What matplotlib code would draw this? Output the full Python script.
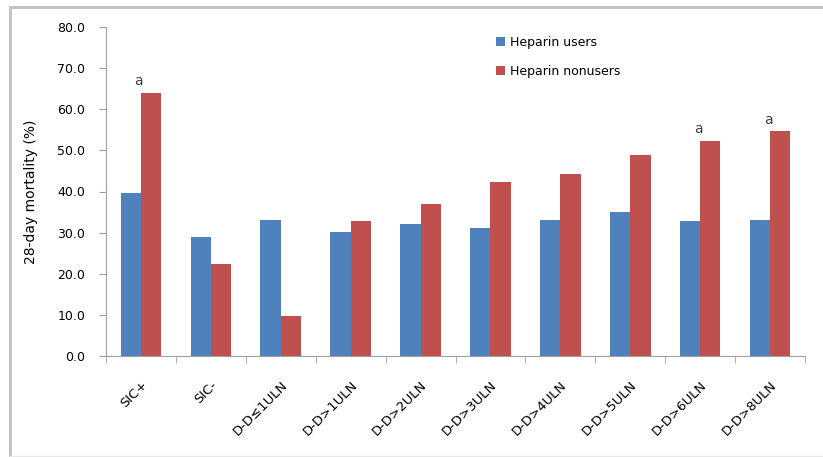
import numpy as np
import matplotlib.pyplot as plt
from matplotlib.lines import Line2D

categories = ['SIC+', 'SIC-', 'D-D≤1ULN', 'D-D>1ULN', 'D-D>2ULN', 'D-D>3ULN',
              'D-D>4ULN', 'D-D>5ULN', 'D-D>6ULN', 'D-D>8ULN']
users = [39.7, 29.0, 33.1, 30.2, 32.1, 31.1, 33.1, 34.9, 32.9, 33.1]
nonusers = [64.0, 22.4, 9.7, 32.8, 37.0, 42.3, 44.2, 48.8, 52.2, 54.6]
marked = ['SIC+', 'D-D>6ULN', 'D-D>8ULN']

plt.rcParams['font.family'] = ['DejaVu Sans']

fig = plt.figure(figsize=(8.23, 4.57), dpi=100)
W, H = 823, 457
# light grey frame (top and left edges, faint bottom)
fig.lines.append(Line2D([10 / W, 1], [1 - 6.5 / H] * 2, transform=fig.transFigure,
                        color='#c4c4c4', linewidth=2.2))
fig.lines.append(Line2D([10 / W] * 2, [0, 1 - 6.5 / H], transform=fig.transFigure,
                        color='#c4c4c4', linewidth=2.2))
fig.lines.append(Line2D([10 / W, 1], [1.2 / H] * 2, transform=fig.transFigure,
                        color='#e8e8e8', linewidth=1))

ax = fig.add_axes([106 / W, 1 - 356 / H, 699 / W, 329 / H])

x = np.arange(len(categories))
w = 0.29
ax.bar(x - w / 2, users, w, color='#4f81bd', label='Heparin users')
ax.bar(x + w / 2, nonusers, w, color='#c0504d', label='Heparin nonusers')

for i, c in enumerate(categories):
    if c in marked:
        ax.text(x[i] - 0.03, nonusers[i] + 1.2, 'a', ha='center', va='bottom',
                fontsize=10, color='#404040')

ax.set_xlim(-0.5, len(categories) - 0.5)
ax.set_ylim(0, 80)
ax.set_yticks(np.arange(0, 81, 10))
ax.set_yticklabels([f'{v:.1f}' for v in range(0, 81, 10)], fontsize=9)
ax.set_xticks(x)
ax.set_xticklabels(categories, rotation=45, ha='right', rotation_mode='anchor', fontsize=9.5)
ax.set_xticks(np.arange(-0.5, len(categories), 1), minor=True)
ax.tick_params(axis='x', which='major', length=0, pad=16)
ax.tick_params(axis='x', which='minor', length=5, color='#a0a0a0')
ax.tick_params(axis='y', length=5, color='#a0a0a0', pad=10)
for s in ['top', 'right']:
    ax.spines[s].set_visible(False)
for s in ['left', 'bottom']:
    ax.spines[s].set_color('#a0a0a0')
ax.set_ylabel('28-day mortality (%)', fontsize=10)
ax.yaxis.set_label_coords(-0.097, 0.5)

ax.legend(loc='upper left', bbox_to_anchor=(0.558, 0.973), frameon=False, fontsize=9,
          handlelength=0.7, handleheight=0.7, labelspacing=1.3, handletextpad=0.4,
          borderpad=0, borderaxespad=0)

fig.savefig('out.png', dpi=100)
